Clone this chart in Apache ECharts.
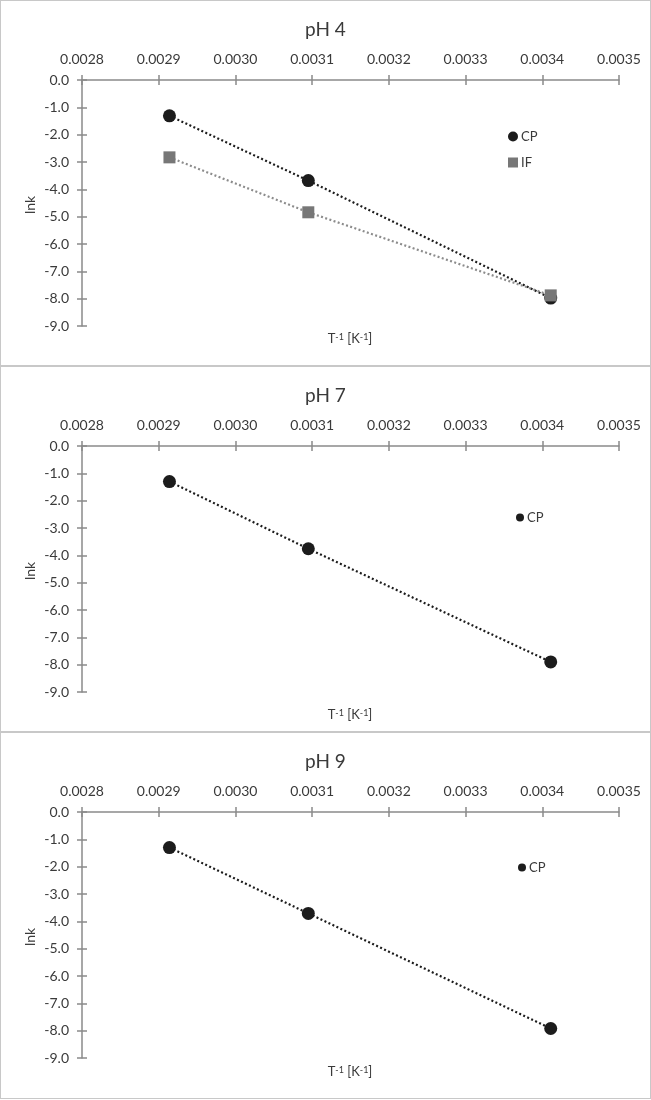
<!DOCTYPE html>
<html>
<head>
<meta charset="utf-8">
<script src="https://cdn.jsdelivr.net/npm/echarts@6/dist/echarts.min.js"></script>
<style>
  html, body { margin: 0; padding: 0; background: #ffffff; }
  body { width: 651px; height: 1100px; position: relative; overflow: hidden; }
  .chart { position: absolute; left: 0; width: 651px; }
  .frame { position: absolute; left: 0; width: 651px; box-sizing: border-box; border: 1px solid #c8c8c8; pointer-events: none; }
</style>
</head>
<body>
<div class="chart" id="c1" style="top:0px;height:366px"></div>
<div class="chart" id="c2" style="top:366px;height:366px"></div>
<div class="chart" id="c3" style="top:732px;height:367px"></div>
<div class="frame" style="top:0px;height:366px"></div>
<div class="frame" style="top:366px;height:366px"></div>
<div class="frame" style="top:732px;height:367px"></div>
<script>
// ---- data ----
const invT = [0.002914, 0.003095, 0.003411];          // T^-1 [K^-1]
const ph4_CP = [-1.31, -3.68, -7.98];
const ph4_IF = [-2.83, -4.84, -7.88];
const ph7_CP = [-1.30, -3.76, -7.90];
const ph9_CP = [-1.30, -3.71, -7.92];
const titles = ['pH 4', 'pH 7', 'pH 9'];
const xMin = 0.0028, xMax = 0.0035, xStep = 0.0001;
const yMin = -9, yMax = 0, yStep = 1;

const FONT = 'Lato, "Open Sans", sans-serif';
const TXT = '#3a3a3a';
const AX = '#8a8a8a';

function pairs(ys) { return invT.map((x, i) => [x, ys[i]]); }

function makeOption(title, seriesList, legendCfg, xNameY) {
  return {
    animation: false,
    backgroundColor: '#ffffff',
    title: {
      text: title, left: 'center', top: 15,
      textStyle: { fontFamily: FONT, fontSize: 19, fontWeight: 'normal', color: TXT }
    },
    legend: {
      orient: 'vertical', left: legendCfg.left, top: legendCfg.top, padding: 0,
      itemWidth: legendCfg.size, itemHeight: legendCfg.size, itemGap: legendCfg.gap,
      textStyle: { fontFamily: FONT, fontSize: 13, color: TXT, padding: [0, 0, 0, -2] },
      data: seriesList.map(s => ({ name: s.name, icon: s.icon }))
    },
    grid: { left: 82, right: 32, top: 80, height: 246 },
    xAxis: [
      {
        type: 'value', position: 'top', min: xMin, max: xMax, interval: xStep,
        axisLine: { onZero: false, lineStyle: { color: AX, width: 1.5 } },
        axisTick: { show: true, length: 5, lineStyle: { color: AX, width: 1.5 } },
        axisLabel: { margin: 14, fontFamily: FONT, fontSize: 14, color: TXT, formatter: v => v.toFixed(4) },
        splitLine: { show: false }
      },
      {
        type: 'value', position: 'top', min: xMin, max: xMax, interval: xStep,
        axisLine: { show: false, onZero: false },
        axisTick: { show: true, inside: true, length: 5, lineStyle: { color: AX, width: 1.5 } },
        axisLabel: { show: false }, splitLine: { show: false }
      }
    ],
    yAxis: [
      {
        type: 'value', min: yMin, max: yMax, interval: yStep,
        axisLine: { show: true, onZero: false, lineStyle: { color: AX, width: 1.5 } },
        axisTick: { show: true, length: 5, lineStyle: { color: AX, width: 1.5 } },
        axisLabel: { margin: 13, fontFamily: FONT, fontSize: 14, color: TXT, formatter: v => v.toFixed(1) },
        splitLine: { show: false }
      },
      {
        type: 'value', position: 'left', min: yMin, max: yMax, interval: yStep,
        axisLine: { show: false, onZero: false },
        axisTick: { show: true, inside: true, length: 5, lineStyle: { color: AX, width: 1.5 } },
        axisLabel: { show: false }, splitLine: { show: false }
      }
    ],
    graphic: [
      {
        type: 'text', x: 350, y: xNameY,
        style: {
          text: 'T{sup|-1} [K{sup|-1}]',
          font: '13px ' + FONT, fill: TXT, align: 'center', verticalAlign: 'middle',
          rich: { sup: { fontSize: 9, fontFamily: FONT, fill: TXT, verticalAlign: 'top', lineHeight: 13 } }
        }
      },
      {
        type: 'text', x: 30, y: 205, rotation: Math.PI / 2,
        style: { text: 'lnk', font: '14px ' + FONT, fill: TXT, align: 'center', verticalAlign: 'middle' }
      }
    ],
    series: seriesList.map(s => ({
      name: s.name, type: 'line', xAxisIndex: 0, yAxisIndex: 0,
      data: pairs(s.values),
      symbol: s.icon, symbolSize: s.icon === 'rect' ? 12 : 13,
      itemStyle: { color: s.color },
      lineStyle: { color: s.lineColor, width: 2.2, type: [2, 2.4] },
      z: s.z
    }))
  };
}

const charts = [
  { id: 'c1', title: titles[0], xNameY: 339,
    legend: { left: 508, top: 130, size: 10, gap: 13 },
    series: [
      { name: 'CP', values: ph4_CP, icon: 'circle', color: '#1c1c1c', lineColor: '#1c1c1c', z: 3 },
      { name: 'IF', values: ph4_IF, icon: 'rect', color: '#777777', lineColor: '#8c8c8c', z: 4 }
    ] },
  { id: 'c2', title: titles[1], xNameY: 349,
    legend: { left: 516, top: 145, size: 8, gap: 13 },
    series: [
      { name: 'CP', values: ph7_CP, icon: 'circle', color: '#1c1c1c', lineColor: '#1c1c1c', z: 3 }
    ] },
  { id: 'c3', title: titles[2], xNameY: 340,
    legend: { left: 518, top: 129, size: 8, gap: 13 },
    series: [
      { name: 'CP', values: ph9_CP, icon: 'circle', color: '#1c1c1c', lineColor: '#1c1c1c', z: 3 }
    ] }
];

charts.forEach(c => {
  const chart = echarts.init(document.getElementById(c.id), null, { renderer: 'canvas' });
  chart.setOption(makeOption(c.title, c.series, c.legend, c.xNameY));
});
</script>
</body>
</html>
